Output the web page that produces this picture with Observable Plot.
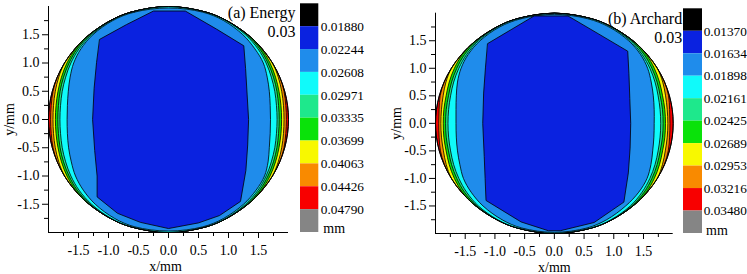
<!DOCTYPE html>
<html><head><meta charset="utf-8">
<script src="https://cdn.jsdelivr.net/npm/d3@7"></script>
<script src="https://cdn.jsdelivr.net/npm/@observablehq/plot@0.6"></script>
<style>
html,body{margin:0;padding:0;background:#fff;}
#fig{position:relative;width:747px;height:274px;overflow:hidden;}
#fig > svg{position:absolute;top:0;overflow:visible;}
#fig svg, #fig svg text, #fig svg g{font-family:"Liberation Serif","Times New Roman",serif !important;}
</style></head><body><div id="fig"></div>
<script>
// ---------- data ----------
const R = 2; // specimen radius, mm
const rowsY = [1.9,1.75,1.5,1.25,1.0,0.75,0.5,0.25,0,-0.25,-0.5,-0.75,-1.0,-1.25,-1.5,-1.75,-1.9];
const levelColors = ["#000000","#0a22e0","#1f8ceb","#10fafa","#1ee88c","#0ae20a","#f8f800","#f98a00","#f80000","#858585"];
const energyLabels = ["0.01880","0.02244","0.02608","0.02971","0.03335","0.03699","0.04063","0.04426","0.04790"];
const archardLabels = ["0.01370","0.01634","0.01898","0.02161","0.02425","0.02689","0.02953","0.03216","0.03480"];
const majorTicks = [-1.5,-1,-0.5,0,0.5,1,1.5];
const minorTicks = [-1.75,-1.25,-0.75,-0.25,0.25,0.75,1.25,1.75];

// (a) Energy: horizontal inset of each thin contour band from the rim, per row
const energyOrangeInset = [0,0,0,0,0,0,0.012,0.03,0.035,0.03,0.012,0,0,0,0,0,0];
const energyYellowInset = [0,0,0,0,0,0.025,0.05,0.068,0.075,0.068,0.05,0.025,0,0,0,0,0];
const energyGreenInset  = [0,0,0,0.012,0.04,0.07,0.095,0.11,0.115,0.11,0.095,0.07,0.04,0.012,0,0,0];
const energySpringInset = [0,0,0.015,0.04,0.075,0.105,0.13,0.15,0.155,0.15,0.13,0.105,0.075,0.04,0.015,0,0];
const energyCyanInset   = [0,0.012,0.04,0.07,0.105,0.14,0.165,0.185,0.19,0.185,0.165,0.14,0.105,0.07,0.04,0.012,0];
const energyMidLeft  = [-0.57,-0.93,-1.26,-1.46,-1.58,-1.64,-1.67,-1.685,-1.69,-1.685,-1.665,-1.62,-1.55,-1.42,-1.22,-0.9,-0.56];
const energyMidRight = [0.57,0.92,1.24,1.44,1.58,1.645,1.68,1.695,1.70,1.695,1.68,1.66,1.60,1.46,1.25,0.92,0.57];
const energyMidTop = 1.975;
const energyBlueX = [-1.145,-0.7,-0.25,0.28,0.8,1.255,1.285,1.31,1.335,1.32,1.29,1.2,0.85,0.5,0,-0.47,-0.85,-1.19,-1.19,-1.23,-1.265,-1.24,-1.2];
const energyBlueY = [1.42,1.68,1.92,1.92,1.6,1.305,0.9,0.45,0,-0.45,-0.9,-1.45,-1.7,-1.83,-1.93,-1.82,-1.66,-1.37,-1.0,-0.55,0,0.55,1.0];

// (b) Archard
const archardOrangeInset = [0,0,0,0,0,0,0.015,0.045,0.055,0.045,0.02,0.005,0,0,0,0,0];
const archardYellowInset = [0,0,0,0,0,0.03,0.065,0.085,0.09,0.085,0.07,0.035,0,0,0,0,0];
const archardGreenInset  = [0,0,0,0.015,0.05,0.085,0.115,0.125,0.13,0.125,0.115,0.085,0.05,0.015,0,0,0];
const archardSpringInset = [0,0,0.02,0.05,0.09,0.125,0.155,0.165,0.17,0.165,0.155,0.125,0.09,0.05,0.02,0,0];
const archardCyanInset   = [0,0.015,0.045,0.085,0.125,0.16,0.19,0.205,0.21,0.205,0.19,0.16,0.125,0.085,0.045,0.015,0];
const archardMidLeft  = [-0.56,-0.92,-1.25,-1.45,-1.57,-1.63,-1.65,-1.655,-1.655,-1.65,-1.63,-1.59,-1.53,-1.40,-1.2,-0.88,-0.55];
const archardMidRight = [0.56,0.92,1.25,1.45,1.57,1.63,1.665,1.68,1.68,1.675,1.655,1.625,1.56,1.42,1.2,0.88,0.55];
const archardMidTop = 1.98;
const archardBlueX = [-1.12,-0.73,-0.34,0.23,0.75,1.235,1.255,1.27,1.285,1.275,1.245,1.17,0.67,0.1,-0.1,-0.56,-1.15,-1.165,-1.18,-1.205,-1.19,-1.16];
const archardBlueY = [1.45,1.7,1.95,1.95,1.62,1.31,0.9,0.45,0,-0.45,-0.9,-1.43,-1.8,-1.95,-1.95,-1.79,-1.4,-1.0,-0.6,0,0.55,1.0];

// ---------- geometry helpers ----------
const zeros = rowsY.map(() => 0);
function rimRegion(insets) {
  const pts = [{x: 0, y: R}];
  rowsY.forEach((y, i) => pts.push({x: -(Math.sqrt(R*R - y*y) - insets[i]), y}));
  pts.push({x: 0, y: -R});
  for (let i = rowsY.length - 1; i >= 0; i--) {
    const y = rowsY[i];
    pts.push({x: Math.sqrt(R*R - y*y) - insets[i], y});
  }
  return pts;
}
function rowRegion(left, right, top) {
  const pts = [{x: 0, y: top}];
  rowsY.forEach((y, i) => pts.push({x: left[i], y}));
  pts.push({x: 0, y: -top});
  for (let i = rowsY.length - 1; i >= 0; i--) pts.push({x: right[i], y: rowsY[i]});
  return pts;
}
const fmt = d => d.toFixed(1);
const FONT = "Liberation Serif, Times New Roman, serif";

function panel(o) {
  const smooth = {x: "x", y: "y", curve: "catmull-rom-closed", stroke: "black", strokeWidth: 0.8};
  const blue = o.blueX.map((x, i) => ({x, y: o.blueY[i]}));
  return Plot.plot({
    width: o.width, height: 274,
    marginLeft: o.ml, marginRight: o.mr, marginTop: o.mt, marginBottom: o.mb,
    style: {fontFamily: FONT, fontSize: "14px", color: "black", background: "transparent", overflow: "visible"},
    x: {domain: [-R, R]},
    y: {domain: [-R, R]},
    marks: [
      Plot.line(rimRegion(zeros), {...smooth, fill: levelColors[8]}),
      Plot.line(rimRegion(o.orange), {...smooth, fill: levelColors[7]}),
      Plot.line(rimRegion(o.yellow), {...smooth, fill: levelColors[6]}),
      Plot.line(rimRegion(o.green), {...smooth, fill: levelColors[5]}),
      Plot.line(rimRegion(o.spring), {...smooth, fill: levelColors[4]}),
      Plot.line(rimRegion(o.cyan), {...smooth, fill: levelColors[3]}),
      Plot.line(rowRegion(o.midL, o.midR, o.midTop), {...smooth, fill: levelColors[2]}),
      Plot.line(blue, {x: "x", y: "y", curve: "linear-closed", stroke: "black", strokeWidth: 0.8, fill: levelColors[1]}),
      Plot.line(rimRegion(zeros), {...smooth, fill: "none", strokeWidth: 1}),
      Plot.ruleX([-R], {y1: -R, y2: R, stroke: "black", strokeWidth: 1}),
      Plot.ruleY([-R], {x1: -R, x2: R, stroke: "black", strokeWidth: 1}),
      Plot.axisX({ticks: majorTicks, tickFormat: fmt, tickSize: 6, tickPadding: 7, label: null, fontSize: 14, fontFamily: FONT}),
      Plot.axisX({ticks: minorTicks, tickFormat: () => "", tickSize: 4, label: null}),
      Plot.axisY({ticks: majorTicks, tickFormat: fmt, tickSize: 6, tickPadding: 3, label: null, fontSize: 14, fontFamily: FONT}),
      Plot.axisY({ticks: minorTicks, tickFormat: () => "", tickSize: 4, label: null}),
      Plot.text([o.title], {frameAnchor: "top-right", textAnchor: "end", lineAnchor: "top", dx: o.tdx, dy: o.tdy, fontSize: 16, lineHeight: 1.2, fontFamily: FONT}),
      Plot.text(["y/mm"], {frameAnchor: "left", dx: -39, rotate: -90, textAnchor: "middle", lineAnchor: "middle", fontSize: 14, fontFamily: FONT}),
      Plot.text(["x/mm"], {frameAnchor: "bottom", dx: o.xldx, dy: 34, textAnchor: "middle", lineAnchor: "middle", fontSize: 14, fontFamily: FONT})
    ]
  });
}

function colorbar(labels, o) {
  const bins = levelColors.map((c, i) => ({i, c}));
  const ticks = labels.map((t, i) => ({t, i: i + 1}));
  return Plot.plot({
    width: o.width, height: 274,
    marginLeft: 0, marginRight: o.width - o.barW, marginTop: o.mt, marginBottom: o.mb,
    style: {fontFamily: FONT, fontSize: "13.3px", color: "black", background: "transparent", overflow: "visible"},
    x: {domain: [0, 1], axis: null},
    y: {domain: [10, 0], axis: null},
    color: {type: "identity"},
    marks: [
      Plot.rect(bins, {x1: 0, x2: 1, y1: d => d.i, y2: d => d.i + 1, fill: d => d.c}),
      Plot.text(ticks, {x: 1, y: "i", text: "t", textAnchor: "start", lineAnchor: "middle", dx: o.ldx, fontSize: 13.3, fontFamily: FONT}),
      Plot.text(["mm"], {x: 1, y: 10, textAnchor: "start", lineAnchor: "middle", dx: o.mdx, dy: o.mdy, fontSize: 14, fontFamily: FONT})
    ]
  });
}

const fig = document.getElementById("fig");
const pa = panel({width: 300, ml: 48, mr: 12, mt: 6, mb: 42, title: "(a) Energy\n0.03", tdx: 7, tdy: -2, xldx: -3,
  orange: energyOrangeInset, yellow: energyYellowInset, green: energyGreenInset, spring: energySpringInset, cyan: energyCyanInset,
  midL: energyMidLeft, midR: energyMidRight, midTop: energyMidTop, blueX: energyBlueX, blueY: energyBlueY});
pa.style.left = "0px";
fig.appendChild(pa);
const ca = colorbar(energyLabels, {width: 80, barW: 18.3, mt: 3.3, mb: 42, ldx: 2, mdx: 4.5, mdy: -4});
ca.style.left = "300px";
fig.appendChild(ca);
const pb = panel({width: 305, ml: 55, mr: 12.3, mt: 12.7, mb: 41, title: "(b) Archard\n0.03", tdx: 9, tdy: -3, xldx: 0,
  orange: archardOrangeInset, yellow: archardYellowInset, green: archardGreenInset, spring: archardSpringInset, cyan: archardCyanInset,
  midL: archardMidLeft, midR: archardMidRight, midTop: archardMidTop, blueX: archardBlueX, blueY: archardBlueY});
pb.style.left = "380px";
fig.appendChild(pb);
const cb = colorbar(archardLabels, {width: 64.3, barW: 19, mt: 8.3, mb: 41, ldx: 1.2, mdx: 3.5, mdy: -2.5});
cb.style.left = "682.7px";
fig.appendChild(cb);
</script></body></html>
